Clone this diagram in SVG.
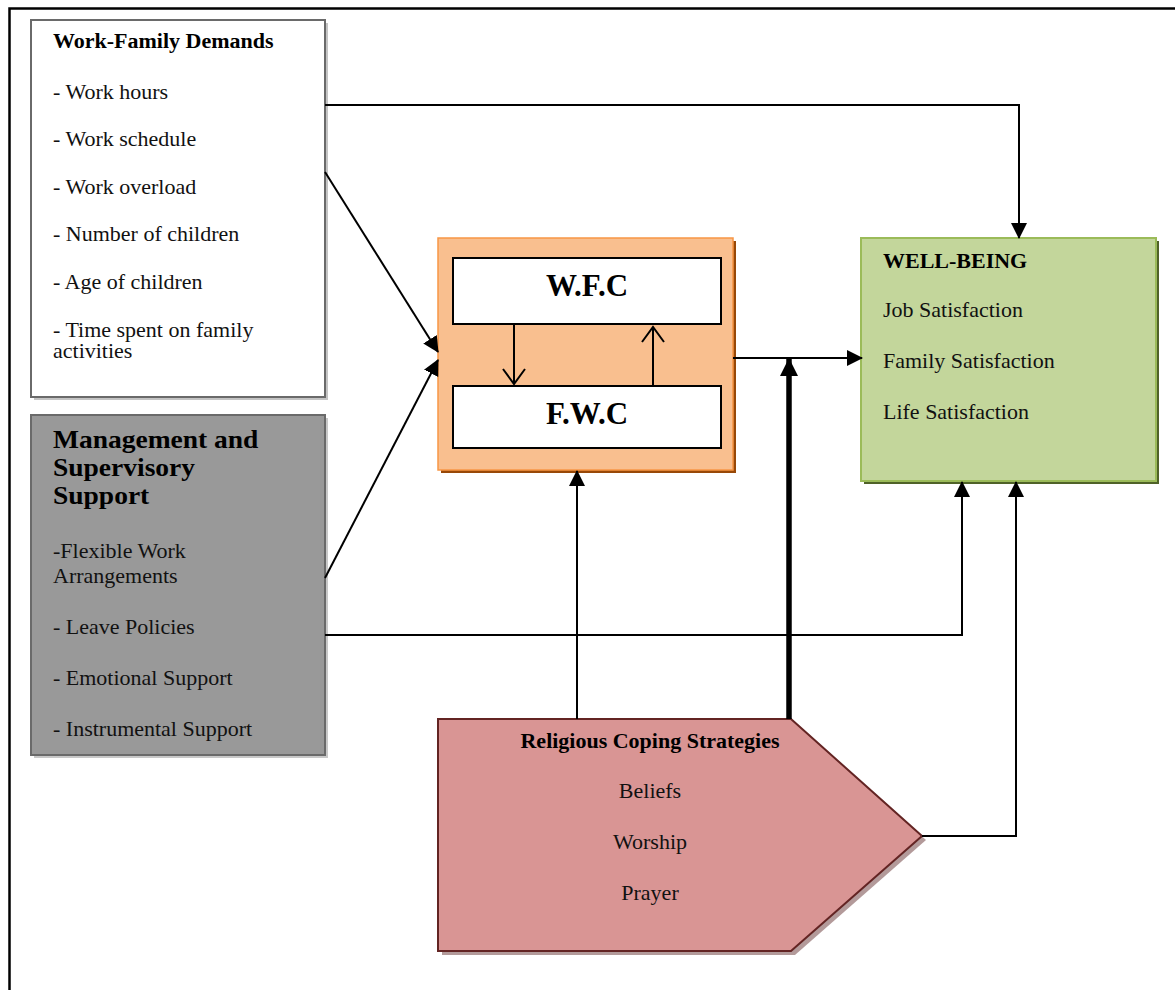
<svg xmlns="http://www.w3.org/2000/svg" width="1175" height="990" viewBox="0 0 1175 990">
<style>
text{font-family:"Liberation Serif","Times New Roman",serif;fill:#111;}
.t{font-size:20px;}
.b{font-size:20px;font-weight:bold;fill:#000;}
.big{font-size:25px;font-weight:bold;fill:#000;}
.huge{font-size:31px;font-weight:bold;fill:#000;}
.c{text-anchor:middle;}
.ln{fill:none;stroke:#000;stroke-width:2;}
</style>
<defs>
<marker id="ah" markerUnits="userSpaceOnUse" markerWidth="16" markerHeight="18" viewBox="0 0 16 18" refX="15" refY="9" orient="auto">
<path d="M0,1 L16,9 L0,17 Z" fill="#000"/>
</marker>
<marker id="ahBig" markerUnits="userSpaceOnUse" markerWidth="18" markerHeight="20" viewBox="0 0 18 20" refX="17" refY="10" orient="auto">
<path d="M0,1 L18,10 L0,19 Z" fill="#000"/>
</marker>
<marker id="open" markerUnits="userSpaceOnUse" markerWidth="18" markerHeight="26" viewBox="0 0 18 26" refX="16" refY="13" orient="auto">
<path d="M1,2 L16,13 L1,24" fill="none" stroke="#000" stroke-width="2"/>
</marker>
</defs>
<rect x="0" y="0" width="1175" height="990" fill="#fff"/>
<rect id="frame" x="9.5" y="8.5" width="1200" height="1000" fill="none" stroke="#000" stroke-width="2.5"/>

<g id="work-family-demands">
<rect x="34" y="23" width="294" height="377" fill="#c4c4c4"/>
<rect x="31" y="20" width="294" height="377" fill="#fff" stroke="#6a6a6a" stroke-width="2"/>
<text class="b" transform="matrix(1.1 0 0 1 53 48)">Work-Family Demands</text>
<text class="t" transform="matrix(1.1 0 0 1 53 99)">- Work hours</text>
<text class="t" transform="matrix(1.1 0 0 1 53 146)">- Work schedule</text>
<text class="t" transform="matrix(1.1 0 0 1 53 194)">- Work overload</text>
<text class="t" transform="matrix(1.1 0 0 1 53 241)">- Number of children</text>
<text class="t" transform="matrix(1.1 0 0 1 53 289)">- Age of children</text>
<text class="t" transform="matrix(1.1 0 0 1 53 337)">- Time spent on family</text>
<text class="t" transform="matrix(1.1 0 0 1 53 358)">activities</text>
</g>

<g id="management-support">
<rect x="34" y="418" width="294" height="340" fill="#c8c8c8"/>
<rect x="31" y="415" width="294" height="340" fill="#999" stroke="#6a6a6a" stroke-width="2"/>
<text class="big" transform="matrix(1.1 0 0 1 53 448)">Management and</text>
<text class="big" transform="matrix(1.1 0 0 1 53 476)">Supervisory</text>
<text class="big" transform="matrix(1.1 0 0 1 53 504)">Support</text>
<text class="t" transform="matrix(1.1 0 0 1 53 558)">-Flexible Work</text>
<text class="t" transform="matrix(1.1 0 0 1 53 583)">Arrangements</text>
<text class="t" transform="matrix(1.1 0 0 1 53 634)">- Leave Policies</text>
<text class="t" transform="matrix(1.1 0 0 1 53 685)">- Emotional Support</text>
<text class="t" transform="matrix(1.1 0 0 1 53 736)">- Instrumental Support</text>
</g>

<g id="conflict">
<rect x="441" y="241" width="295" height="232" fill="#984807"/>
<rect x="438" y="238" width="295" height="232" fill="#f9bf8f" stroke="#f79646" stroke-width="1.5"/>
<g id="wfc">
<rect x="453" y="258" width="268" height="66" fill="#fff" stroke="#000" stroke-width="2"/>
<text class="huge c" x="587" y="296">W.F.C</text>
</g>
<g id="fwc">
<rect x="453" y="386" width="268" height="62" fill="#fff" stroke="#000" stroke-width="2"/>
<text class="huge c" x="587" y="424">F.W.C</text>
</g>
</g>

<g id="well-being">
<rect x="864" y="241" width="295" height="243" fill="#4f6228"/>
<rect x="861" y="238" width="295" height="243" fill="#c3d69b" stroke="#9bbb59" stroke-width="2"/>
<text class="b" transform="matrix(1.1 0 0 1 883 268)">WELL-BEING</text>
<text class="t" transform="matrix(1.1 0 0 1 883 317)">Job Satisfaction</text>
<text class="t" transform="matrix(1.1 0 0 1 883 368)">Family Satisfaction</text>
<text class="t" transform="matrix(1.1 0 0 1 883 419)">Life Satisfaction</text>
</g>

<g id="religious-coping">
<polygon points="442,723 795,723 926,840 795,955 442,955" fill="#b39a9a"/>
<polygon points="438,719 791,719 922,836 791,951 438,951" fill="#d99594" stroke="#632423" stroke-width="2"/>
<text class="b c" transform="matrix(1.1 0 0 1 650 748)">Religious Coping Strategies</text>
<text class="t c" transform="matrix(1.1 0 0 1 650 798)">Beliefs</text>
<text class="t c" transform="matrix(1.1 0 0 1 650 849)">Worship</text>
<text class="t c" transform="matrix(1.1 0 0 1 650 900)">Prayer</text>
</g>

<g id="connectors">
<polyline class="ln" points="325,105 1019,105 1019,238" marker-end="url(#ah)"/>
<line class="ln" x1="325" y1="172" x2="438" y2="352" marker-end="url(#ah)"/>
<line class="ln" x1="325" y1="578" x2="438" y2="360" marker-end="url(#ah)"/>
<polyline class="ln" points="325,635 962,635 962,482" marker-end="url(#ah)"/>
<polyline class="ln" points="922,836 1016,836 1016,482" marker-end="url(#ah)"/>
<line class="ln" x1="733" y1="358" x2="862" y2="358" marker-end="url(#ah)"/>
<line x1="789" y1="719" x2="789" y2="359" stroke="#000" stroke-width="5.5" marker-end="url(#ahBig)"/>
<line class="ln" x1="577" y1="719" x2="577" y2="471" marker-end="url(#ah)"/>
<line class="ln" x1="514" y1="324" x2="514" y2="384" marker-end="url(#open)"/>
<line class="ln" x1="653" y1="386" x2="653" y2="327" marker-end="url(#open)"/>
</g>
</svg>
